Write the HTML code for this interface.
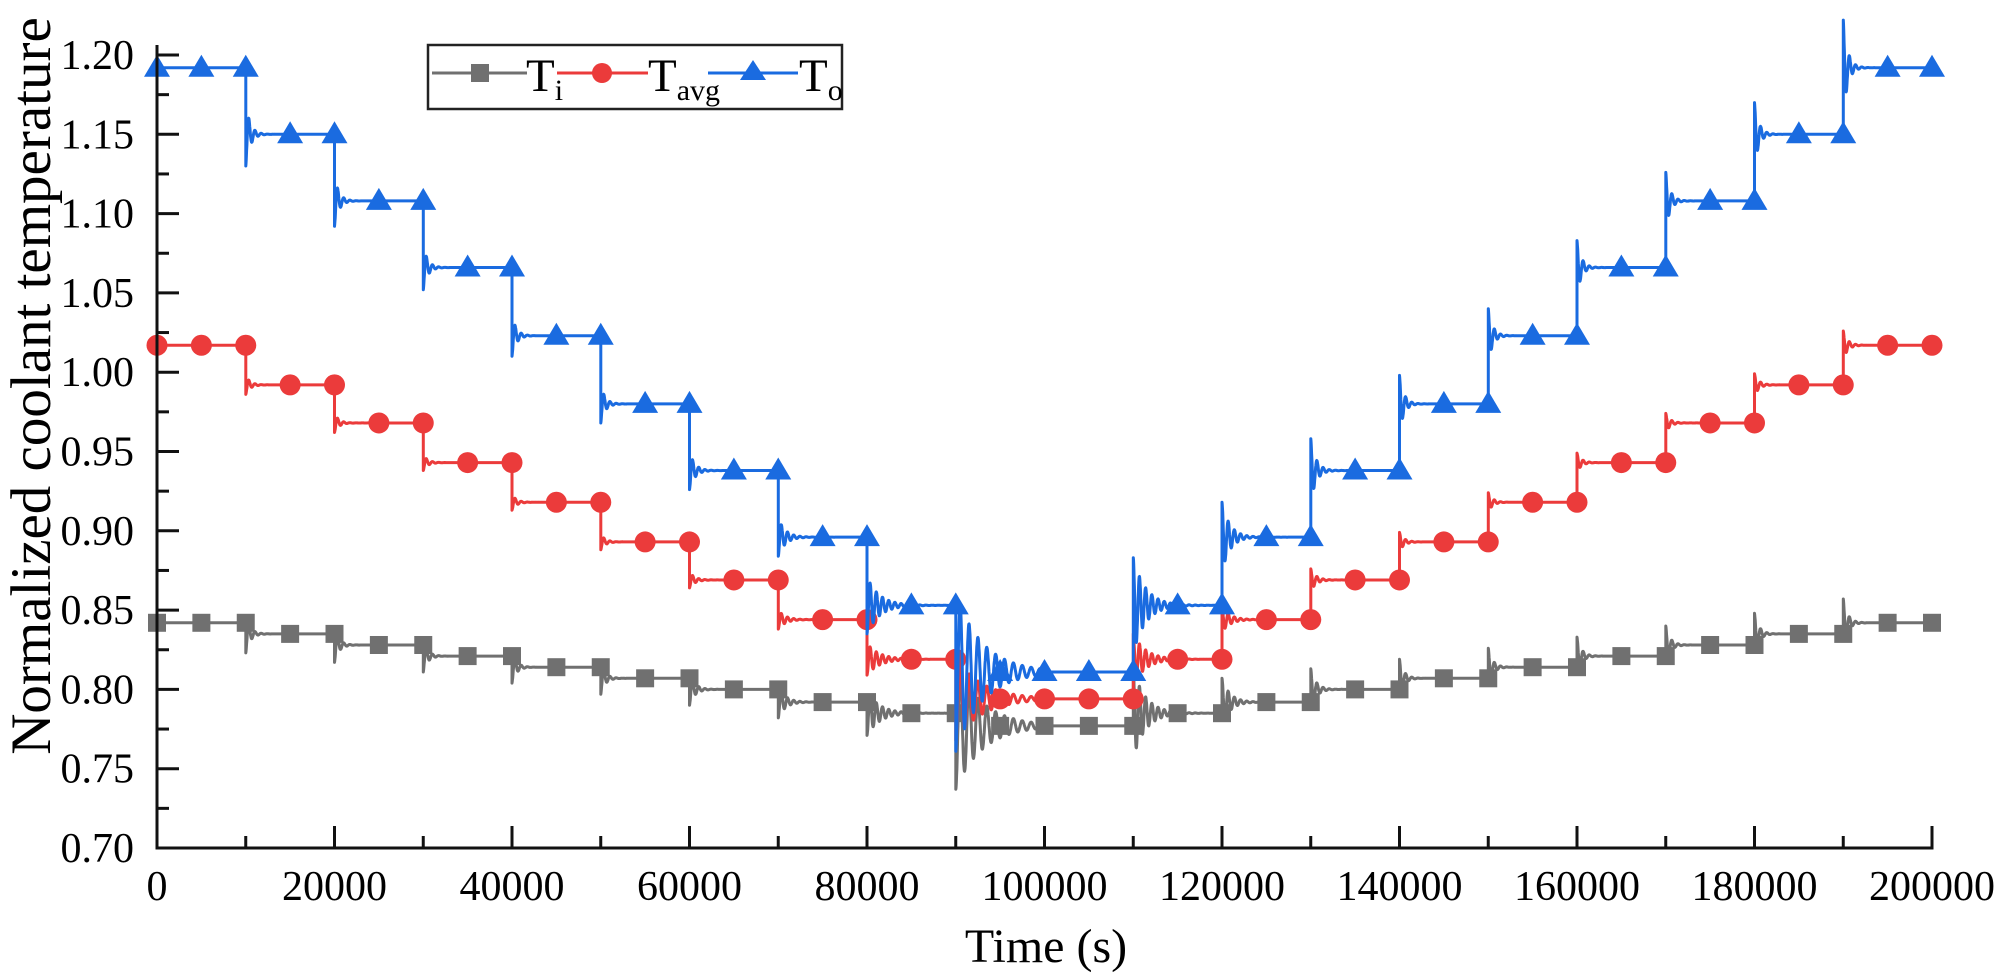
<!DOCTYPE html>
<html><head><meta charset="utf-8">
<style>
html,body{margin:0;padding:0;background:#fff;}
svg{display:block;font-family:"Liberation Serif",serif;}
</style></head>
<body>
<svg id="chart" width="2000" height="979" viewBox="0 0 2000 979" xmlns="http://www.w3.org/2000/svg">
<g id="plot"></g>
<g id="axes"></g>
<text x="1046" y="962" font-size="48" text-anchor="middle">Time (s)</text>
<text transform="translate(50,386) rotate(-90)" font-size="57" text-anchor="middle">Normalized coolant temperature</text>
<g>
<rect x="428" y="45" width="414" height="64" fill="#fff" stroke="#222" stroke-width="2.5"/>
<g>
<line x1="432" y1="73" x2="527" y2="73" stroke="#707070" stroke-width="3"/>
<rect x="471" y="64" width="18" height="18" fill="#707070"/>
<text x="526" y="91" font-size="47">T<tspan font-size="30" dy="9">i</tspan></text></g>
<g>
<line x1="557" y1="73" x2="648" y2="73" stroke="#eb3b3b" stroke-width="3"/>
<circle cx="602" cy="73" r="10" fill="#eb3b3b"/>
<text x="648" y="91" font-size="47">T<tspan font-size="30" dy="9">avg</tspan></text></g>
<g>
<line x1="708" y1="73" x2="798" y2="73" stroke="#1a6be0" stroke-width="3"/>
<polygon points="753,60 740,80 766,80" fill="#1a6be0"/>
<text x="799" y="91" font-size="47">T<tspan font-size="30" dy="9">o</tspan></text></g>
</g>
</svg>
<script>
// step levels per 10000-s segment (segment k covers k*10000..(k+1)*10000)
const levelsTo   = [1.192,1.150,1.108,1.066,1.023,0.980,0.938,0.896,0.853,0.811,0.811,0.853,0.896,0.938,0.980,1.023,1.066,1.108,1.150,1.192];
const levelsTavg = [1.017,0.992,0.968,0.943,0.918,0.893,0.869,0.844,0.819,0.794,0.794,0.819,0.844,0.869,0.893,0.918,0.943,0.968,0.992,1.017];
const levelsTi   = [0.842,0.835,0.828,0.821,0.814,0.807,0.800,0.792,0.785,0.777,0.777,0.785,0.792,0.800,0.807,0.814,0.821,0.828,0.835,0.842];
// transient overshoot amplitude at start of each segment
const ampTo   = [0,0.020,0.016,0.014,0.013,0.012,0.012,0.012,0.018,0.050,0,0.030,0.022,0.020,0.018,0.017,0.017,0.018,0.020,0.030];
const ampTavg = [0,0.006,0.006,0.005,0.005,0.005,0.005,0.006,0.010,0.026,0,0.016,0.008,0.007,0.006,0.006,0.006,0.006,0.007,0.009];
const ampTi   = [0,0.012,0.011,0.010,0.010,0.010,0.010,0.010,0.014,0.040,0,0.028,0.015,0.013,0.012,0.012,0.012,0.012,0.013,0.015];
const decayTau= [0,500,500,500,500,500,600,800,1400,3000,0,1400,900,600,500,500,500,500,500,500];
const xTicks = [0,20000,40000,60000,80000,100000,120000,140000,160000,180000,200000];
const yTicks = [0.70,0.75,0.80,0.85,0.90,0.95,1.00,1.05,1.10,1.15,1.20];

const X0=157,X1=1932,Y0=848,Y1=55;
const xs=t=>X0+(t/200000)*(X1-X0);
const ys=v=>Y0-(v-0.70)/(0.50)*(Y0-Y1);
const NS="http://www.w3.org/2000/svg";
const plot=document.getElementById('plot'), axes=document.getElementById('axes');
function mk(tag,attrs,parent){const e=document.createElementNS(NS,tag);for(const k in attrs)e.setAttribute(k,attrs[k]);parent.appendChild(e);return e;}

function value(levels,amps,t){
  let k=Math.min(19,Math.floor(t/10000));
  let v=levels[k];
  if(k>0&&amps[k]>0){
    const dt=t-k*10000, dir=Math.sign(levels[k]-levels[k-1])||1;
    const per = decayTau[k]>2000 ? 1000 : 700;
    v+=dir*amps[k]*Math.exp(-dt/decayTau[k])*Math.cos(2*Math.PI*dt/per);
  }
  return v;
}
function series(levels,amps,color,name,marker){
  const g=mk('g',{},plot);
  
  
  let d='';
  for(let t=0;t<=200000;t+=25){
    const k=Math.floor(t/10000);
    if(t%10000===0&&t>0&&t<200000){d+='L'+xs(t).toFixed(1)+','+ys(levels[k-1]).toFixed(1);}
    d+=(d?'L':'M')+xs(t).toFixed(1)+','+ys(value(levels,amps,t)).toFixed(1);
  }
  const p=mk('path',{d:d,fill:'none',stroke:color,'stroke-width':3,'stroke-linejoin':'round'},g);
  
  
  for(let t=0;t<=200000;t+=5000){
    const lv=(t%10000===0)?levels[Math.max(0,t/10000-1)]:levels[Math.floor(t/10000)];
    const cx=xs(t),cy=ys(lv);
    let m;
    if(marker==='sq')m=mk('rect',{x:cx-9,y:cy-9,width:18,height:18,fill:color},g);
    else if(marker==='ci')m=mk('circle',{cx:cx,cy:cy,r:10.5,fill:color},g);
    else m=mk('polygon',{points:`${cx},${cy-13} ${cx-13},${cy+9} ${cx+13},${cy+9}`,fill:color},g);
    
    
  }
}
series(levelsTi,ampTi,'#707070','ti','sq');
series(levelsTavg,ampTavg,'#eb3b3b','tavg','ci');
series(levelsTo,ampTo,'#1a6be0','to','tr');

// axes
const ax=mk('path',{d:`M${X0},${Y1-10}L${X0},${Y0}L${X1},${Y0}L${X1},${Y0-22}`,fill:'none',stroke:'#111','stroke-width':3},axes);


xTicks.forEach((t,i)=>{
  const x=xs(t);
  const tk=mk('line',{x1:x,y1:Y0,x2:x,y2:Y0-22,stroke:'#111','stroke-width':3},axes);
  
  
  if(i<xTicks.length-1){
    const xm=xs(t+10000);
    const mt=mk('line',{x1:xm,y1:Y0,x2:xm,y2:Y0-12,stroke:'#111','stroke-width':3},axes);
    
    
  }
  const lb=mk('text',{x:x,y:900,'font-size':42,'text-anchor':'middle'},axes);
  lb.textContent=String(t);
  
  
});
yTicks.forEach((v,i)=>{
  const y=ys(v);
  const tk=mk('line',{x1:X0,y1:y,x2:X0+22,y2:y,stroke:'#111','stroke-width':3},axes);
  
  
  if(i<yTicks.length-1){
    const ym=ys(v+0.025);
    const mt=mk('line',{x1:X0,y1:ym,x2:X0+12,y2:ym,stroke:'#111','stroke-width':3},axes);
    
    
  }
  const lb=mk('text',{x:134,y:y+14,'font-size':42,'text-anchor':'end'},axes);
  lb.textContent=v.toFixed(2);
  
  
});
</script>
</body></html>
